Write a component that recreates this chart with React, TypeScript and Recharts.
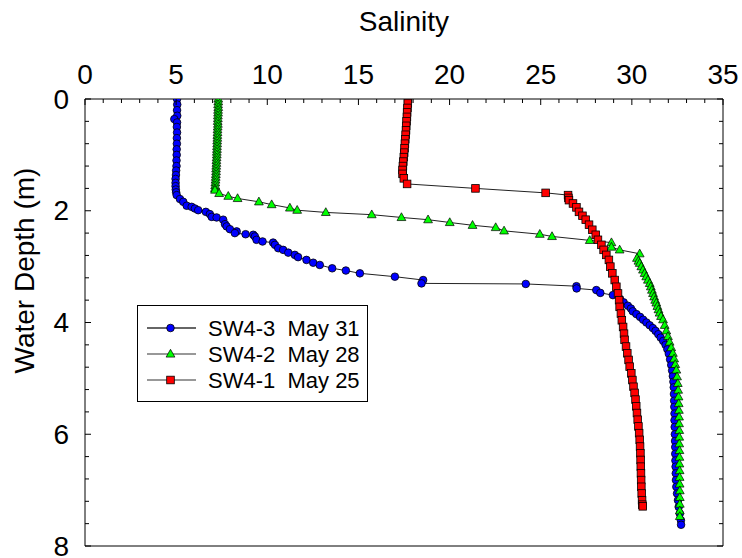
import React from 'react';
import { ScatterChart, Scatter, XAxis, YAxis, Legend } from 'recharts';

const FONT = 'Arial, "Liberation Sans", sans-serif';

// axis ticks (every tick is drawn, only the major ones get a label)
const salinityTicks = [
  0, 1, 2, 3, 4, 5, 6, 7, 8, 9, 10, 11, 12, 13, 14, 15, 16, 17, 18, 19, 20,
  21, 22, 23, 24, 25, 26, 27, 28, 29, 30, 31, 32, 33, 34, 35,
];
const depthTicks = [
  0, 0.4, 0.8, 1.2, 1.6, 2, 2.4, 2.8, 3.2, 3.6, 4, 4.4, 4.8, 5.2, 5.6, 6, 6.4,
  6.8, 7.2, 7.6, 8,
];

const legendOrder = ['SW4-3  May 31', 'SW4-2  May 28', 'SW4-1  May 25'];

// SW4-3  May 31
const sw43Depth = [
  0, 0.1, 0.2, 0.3, 0.36, 0.42, 0.5, 0.6, 0.7, 0.8, 0.9, 1.0, 1.1, 1.2, 1.28,
  1.36, 1.43, 1.5, 1.56, 1.62, 1.67, 1.72, 1.79, 1.84, 1.91, 1.93, 1.96, 1.99,
  2.02, 2.06, 2.11, 2.12, 2.16, 2.24, 2.28, 2.33, 2.37, 2.4, 2.42, 2.43, 2.46,
  2.52, 2.55, 2.57, 2.61, 2.67, 2.7, 2.75, 2.79, 2.83, 2.88, 2.93, 2.97, 3.03,
  3.07, 3.12, 3.18, 3.24, 3.3, 3.31, 3.35, 3.39, 3.42, 3.47, 3.51, 3.58, 3.64,
  3.7, 3.75, 3.8, 3.85, 3.9, 3.95, 4.0, 4.05, 4.1, 4.15, 4.21, 4.27, 4.33, 4.4,
  4.48, 4.56, 4.66, 4.76, 4.86, 4.96, 5.06, 5.16, 5.28, 5.4, 5.51, 5.63, 5.75,
  5.87, 6.0, 6.12, 6.23, 6.35, 6.47, 6.58, 6.7, 6.82, 6.94, 7.06, 7.18, 7.3,
  7.42, 7.54, 7.62,
];
const sw43Salinity = [
  5.05, 5.06, 5.05, 5.06, 4.9, 5.05, 5.04, 5.05, 5.04, 5.04, 5.03, 5.03, 5.02,
  5.02, 5.0, 4.99, 4.97, 4.97, 4.97, 4.98, 5.0, 5.03, 5.21, 5.39, 5.58, 5.85,
  6.03, 6.21, 6.63, 6.85, 6.95, 7.22, 7.58, 7.68, 7.77, 7.95, 8.32, 8.22, 8.81,
  9.23, 9.32, 9.41, 9.74, 10.32, 10.42, 10.6, 10.87, 11.15, 11.51, 11.69,
  12.15, 12.52, 12.88, 13.56, 14.31, 15.08, 17.0, 18.55, 18.46, 24.18, 26.96,
  26.97, 28.05, 28.27, 28.96, 29.35, 29.55, 29.78, 29.95, 30.05, 30.25, 30.45,
  30.62, 30.8, 30.98, 31.15, 31.3, 31.45, 31.58, 31.72, 31.85, 31.95, 32.03,
  32.1, 32.16, 32.21, 32.25, 32.28, 32.3, 32.31, 32.32, 32.33, 32.34, 32.34,
  32.35, 32.36, 32.37, 32.38, 32.38, 32.39, 32.4, 32.41, 32.42, 32.44, 32.48,
  32.53, 32.57, 32.63, 32.69, 32.7,
];

// SW4-2  May 28
const sw42Depth = [
  0, 0.05, 0.1, 0.15, 0.2, 0.25, 0.3, 0.35, 0.4, 0.45, 0.5, 0.55, 0.6, 0.65,
  0.7, 0.75, 0.8, 0.85, 0.9, 0.95, 1.0, 1.05, 1.1, 1.15, 1.2, 1.25, 1.3, 1.35,
  1.4, 1.45, 1.5, 1.55, 1.6, 1.63, 1.69, 1.74, 1.78, 1.84, 1.89, 1.95, 1.99,
  2.03, 2.07, 2.12, 2.16, 2.21, 2.26, 2.3, 2.36, 2.42, 2.46, 2.53, 2.57, 2.65,
  2.7, 2.77, 2.85, 2.9, 2.94, 3.0, 3.06, 3.12, 3.18, 3.24, 3.3, 3.36, 3.42,
  3.48, 3.54, 3.6, 3.65, 3.71, 3.77, 3.83, 3.89, 3.95, 4.05, 4.15, 4.25, 4.35,
  4.45, 4.55, 4.65, 4.75, 4.85, 4.97, 5.09, 5.21, 5.33, 5.45, 5.57, 5.69, 5.81,
  5.93, 6.05, 6.17, 6.29, 6.41, 6.53, 6.65, 6.77, 6.89, 7.01, 7.13, 7.25, 7.37,
  7.47,
];
const sw42Salinity = [
  7.31, 7.31, 7.3, 7.31, 7.3, 7.3, 7.29, 7.29, 7.28, 7.29, 7.28, 7.27, 7.27,
  7.26, 7.26, 7.25, 7.25, 7.24, 7.24, 7.23, 7.23, 7.22, 7.21, 7.21, 7.2, 7.19,
  7.19, 7.18, 7.17, 7.16, 7.15, 7.14, 7.13, 7.13, 7.36, 7.86, 8.37, 9.54,
  10.24, 11.24, 11.64, 13.21, 15.73, 17.36, 18.82, 20.01, 21.26, 22.53, 22.99,
  24.95, 25.62, 27.69, 28.88, 28.88, 29.33, 30.43, 30.28, 30.36, 30.43, 30.52,
  30.61, 30.7, 30.79, 30.88, 30.98, 31.04, 31.1, 31.16, 31.22, 31.28, 31.34,
  31.4, 31.46, 31.52, 31.6, 31.71, 31.8, 31.89, 31.98, 32.07, 32.16, 32.25,
  32.32, 32.38, 32.44, 32.48, 32.52, 32.54, 32.56, 32.57, 32.58, 32.59, 32.59,
  32.6, 32.6, 32.6, 32.61, 32.61, 32.61, 32.62, 32.62, 32.62, 32.63, 32.63,
  32.63, 32.63, 32.63,
];

// SW4-1  May 25
const sw41Depth = [
  0, 0.08, 0.16, 0.24, 0.32, 0.4, 0.48, 0.56, 0.64, 0.72, 0.8, 0.88, 0.96,
  1.04, 1.12, 1.2, 1.27, 1.34, 1.42, 1.52, 1.6, 1.68, 1.72, 1.77, 1.81, 1.87,
  1.94, 2.02, 2.09, 2.16, 2.25, 2.34, 2.43, 2.52, 2.61, 2.7, 2.79, 2.88, 3.0,
  3.12, 3.24, 3.36, 3.48, 3.6, 3.72, 3.84, 3.96, 4.08, 4.2, 4.31, 4.43, 4.55,
  4.67, 4.79, 4.91, 5.03, 5.15, 5.26, 5.38, 5.5, 5.62, 5.74, 5.86, 5.98, 6.1,
  6.22, 6.34, 6.46, 6.58, 6.7, 6.82, 6.94, 7.06, 7.18, 7.26, 7.29,
];
const sw41Salinity = [
  17.72, 17.71, 17.69, 17.67, 17.66, 17.64, 17.62, 17.61, 17.59, 17.57, 17.55,
  17.53, 17.51, 17.49, 17.46, 17.44, 17.42, 17.42, 17.49, 17.67, 21.42, 25.27,
  26.5, 26.52, 26.55, 26.77, 26.96, 27.1, 27.29, 27.47, 27.65, 27.83, 28.02,
  28.14, 28.33, 28.45, 28.6, 28.74, 28.82, 28.93, 29.06, 29.15, 29.24, 29.3,
  29.33, 29.4, 29.45, 29.52, 29.57, 29.6, 29.68, 29.75, 29.82, 29.88, 29.97,
  30.03, 30.09, 30.15, 30.2, 30.24, 30.28, 30.32, 30.36, 30.4, 30.43, 30.45,
  30.47, 30.48, 30.49, 30.5, 30.51, 30.52, 30.54, 30.56, 30.57, 30.6,
];

const toPoints = (depth: number[], sal: number[]) =>
  depth.map((d, i) => ({ d, s: sal[i] }));

const sw43 = toPoints(sw43Depth, sw43Salinity);
const sw42 = toPoints(sw42Depth, sw42Salinity);
const sw41 = toPoints(sw41Depth, sw41Salinity);

const Dot = ({ cx, cy }: any) => (
  <circle cx={cx} cy={cy} r={3.8} fill="#0000ff" stroke="#000" strokeWidth={0.8} />
);
const Tri = ({ cx, cy }: any) => (
  <polygon
    points={`${cx},${cy - 4.7} ${cx - 4.4},${cy + 3.1} ${cx + 4.4},${cy + 3.1}`}
    fill="#00ff00"
    stroke="#000"
    strokeWidth={0.7}
  />
);
const Sq = ({ cx, cy }: any) => (
  <rect x={cx - 3.8} y={cy - 3.8} width={7.6} height={7.6} fill="#ff0000" stroke="#000" strokeWidth={0.8} />
);

const markers: Record<string, (p: any) => React.ReactElement> = {
  'SW4-3  May 31': Dot,
  'SW4-2  May 28': Tri,
  'SW4-1  May 25': Sq,
};

const isMajorDepth = (v: number) => Math.abs(v - Math.round(v)) < 1e-6 && Math.round(v) % 2 === 0;

const TopTick = ({ x, y, payload }: any) => {
  const major = payload.value % 5 === 0;
  return (
    <g>
      <line x1={x} y1={y} x2={x} y2={y + (major ? 6 : 4)} stroke="#000" />
      {major && (
        <text x={x} y={y - 15} textAnchor="middle" fontSize={28} fontFamily={FONT} fill="#000">
          {payload.value}
        </text>
      )}
    </g>
  );
};
const BottomTick = ({ x, y, payload }: any) => (
  <line x1={x} y1={y} x2={x} y2={y - (payload.value % 5 === 0 ? 6 : 4)} stroke="#000" />
);
const LeftTick = ({ x, y, payload }: any) => {
  const major = isMajorDepth(payload.value);
  return (
    <g>
      <line x1={x} y1={y} x2={x + (major ? 6 : 4)} y2={y} stroke="#000" />
      {major && (
        <text x={x - 16} y={y + 9.5} textAnchor="end" fontSize={28} fontFamily={FONT} fill="#000">
          {Math.round(payload.value)}
        </text>
      )}
    </g>
  );
};
const RightTick = ({ x, y, payload }: any) => (
  <line x1={x} y1={y} x2={x - (isMajorDepth(payload.value) ? 6 : 4)} y2={y} stroke="#000" />
);

// y title sits a little above the middle of the axis, as in the source figure
const DepthTitle = ({ viewBox }: any) => {
  const x = 24.5;
  const y = viewBox.y + viewBox.height / 2 - 52;
  return (
    <text
      x={x}
      y={y}
      transform={`rotate(-90, ${x}, ${y})`}
      textAnchor="middle"
      dominantBaseline="central"
      fontSize={28}
      fontFamily={FONT}
      fill="#000"
    >
      Water Depth (m)
    </text>
  );
};

const LegendBox = ({ payload }: any) => {
  const items = [...(payload || [])].sort(
    (a: any, b: any) => legendOrder.indexOf(a.value) - legendOrder.indexOf(b.value),
  );
  return (
    <div style={{ width: 231, height: 97, border: '1px solid #000', boxSizing: 'border-box', background: '#fff' }}>
      <svg width={229} height={95} style={{ display: 'block' }}>
        {items.map((entry: any, i: number) => {
          const cy = 22 + i * 26;
          const Marker = markers[entry.value];
          return (
            <g key={entry.value}>
              <line x1={9} y1={cy} x2={58} y2={cy} stroke="#333" strokeWidth={i === 0 ? 1.6 : 1.1} />
              {Marker && <Marker cx={32.5} cy={cy} />}
              <text x={70} y={cy + 7.5} fontSize={22} fontFamily={FONT} fill="#000" style={{ whiteSpace: 'pre' }}>
                {entry.value}
              </text>
            </g>
          );
        })}
      </svg>
    </div>
  );
};

const lineStyle = { stroke: '#222', strokeWidth: 1 };

export default function App() {
  return (
    <div style={{ position: 'absolute', left: 0, top: 0, width: 742, height: 558, background: '#fff' }}>
      <ScatterChart width={742} height={558} margin={{ top: 0, right: 18, bottom: 11, left: 0 }}>
        <XAxis
          xAxisId="top"
          orientation="top"
          type="number"
          dataKey="s"
          domain={[0, 35]}
          allowDataOverflow
          ticks={salinityTicks}
          interval={0}
          height={99}
          tickLine={false}
          tickSize={0}
          tickMargin={0}
          tick={<TopTick />}
          axisLine={{ stroke: '#000' }}
          label={{ value: 'Salinity', position: 'insideTop', offset: 11, fontSize: 28, fill: '#000', fontFamily: FONT }}
        />
        <XAxis
          xAxisId="bottom"
          orientation="bottom"
          type="number"
          domain={[0, 35]}
          allowDataOverflow
          ticks={salinityTicks}
          interval={0}
          height={1}
          tickLine={false}
          tickSize={0}
          tickMargin={0}
          tick={<BottomTick />}
          axisLine={{ stroke: '#000' }}
        />
        <YAxis
          yAxisId="left"
          orientation="left"
          type="number"
          dataKey="d"
          domain={[0, 8]}
          reversed
          allowDataOverflow
          ticks={depthTicks}
          interval={0}
          width={85}
          tickLine={false}
          tickSize={0}
          tickMargin={0}
          tick={<LeftTick />}
          axisLine={{ stroke: '#000' }}
          label={<DepthTitle />}
        />
        <YAxis
          yAxisId="right"
          orientation="right"
          type="number"
          domain={[0, 8]}
          reversed
          allowDataOverflow
          ticks={depthTicks}
          interval={0}
          width={1}
          tickLine={false}
          tickSize={0}
          tickMargin={0}
          tick={<RightTick />}
          axisLine={{ stroke: '#000' }}
        />
        <Legend
          layout="vertical"
          align="center"
          verticalAlign="middle"
          wrapperStyle={{ left: 137, top: 305, width: 231, height: 97 }}
          content={<LegendBox />}
        />
        <Scatter
          name="SW4-3  May 31"
          data={sw43}
          xAxisId="top"
          yAxisId="left"
          line={lineStyle}
          shape={Dot}
          isAnimationActive={false}
        />
        <Scatter
          name="SW4-2  May 28"
          data={sw42}
          xAxisId="top"
          yAxisId="left"
          line={lineStyle}
          shape={Tri}
          isAnimationActive={false}
        />
        <Scatter
          name="SW4-1  May 25"
          data={sw41}
          xAxisId="top"
          yAxisId="left"
          line={lineStyle}
          shape={Sq}
          isAnimationActive={false}
        />
      </ScatterChart>
    </div>
  );
}
